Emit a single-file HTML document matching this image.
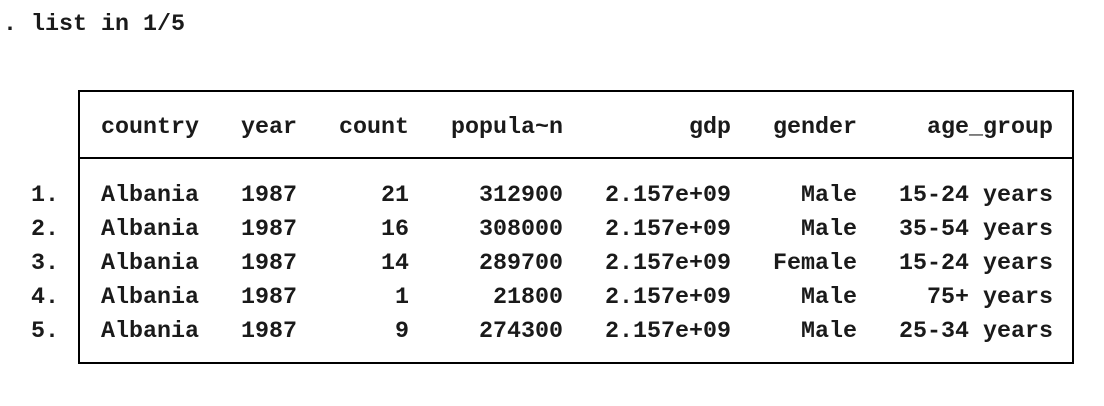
<!DOCTYPE html>
<html><head><meta charset="utf-8"><style>
html,body{margin:0;padding:0;background:#fff;width:1104px;height:406px;overflow:hidden;position:relative}
.t{position:absolute;left:3px;margin:0;font-family:"Liberation Mono",monospace;font-size:23.33px;font-weight:bold;color:#1a1a1a;line-height:34px;height:34px;white-space:pre}
#box{position:absolute;left:78px;top:90px;width:992px;height:270px;border:2px solid #000}
#sep{position:absolute;left:78px;top:157px;width:996px;height:2px;background:#000}
</style></head><body>
<div class="t" style="top:8px">. list in 1/5</div>
<div id="box"></div>
<div id="sep"></div>
<div id="rows"></div>
<script>
const headers=["country","year","count","popula~n","gdp","gender","age_group"];
const countries=["Albania","Albania","Albania","Albania","Albania"];
const years=["1987","1987","1987","1987","1987"];
const counts=["21","16","14","1","9"];
const pops=["312900","308000","289700","21800","274300"];
const gdps=["2.157e+09","2.157e+09","2.157e+09","2.157e+09","2.157e+09"];
const genders=["Male","Male","Female","Male","Male"];
const ages=["15-24 years","35-54 years","15-24 years","75+ years","25-34 years"];
const spec=[[7,'l'],[17,'l'],[28,'r'],[39,'r'],[51,'r'],[60,'r'],[74,'r']];
function build(cells,prefix){
  let s=prefix||"";
  cells.forEach((c,i)=>{
    const [col,al]=spec[i];
    const start=al==='l'?col:col-c.length+1;
    while(s.length<start)s+=" ";
    s+=c;
  });
  return s;
}
const rows=document.getElementById('rows');
const hd=document.createElement('div');
hd.className='t';hd.style.top='111px';


hd.textContent=build(headers);
rows.appendChild(hd);
for(let i=0;i<countries.length;i++){
  const d=document.createElement('div');
  d.className='t';d.style.top=(179+i*34)+'px';
  
  
  d.textContent=build([countries[i],years[i],counts[i],pops[i],gdps[i],genders[i],ages[i]],"  "+(i+1)+".");
  rows.appendChild(d);
}
</script>
</body></html>
